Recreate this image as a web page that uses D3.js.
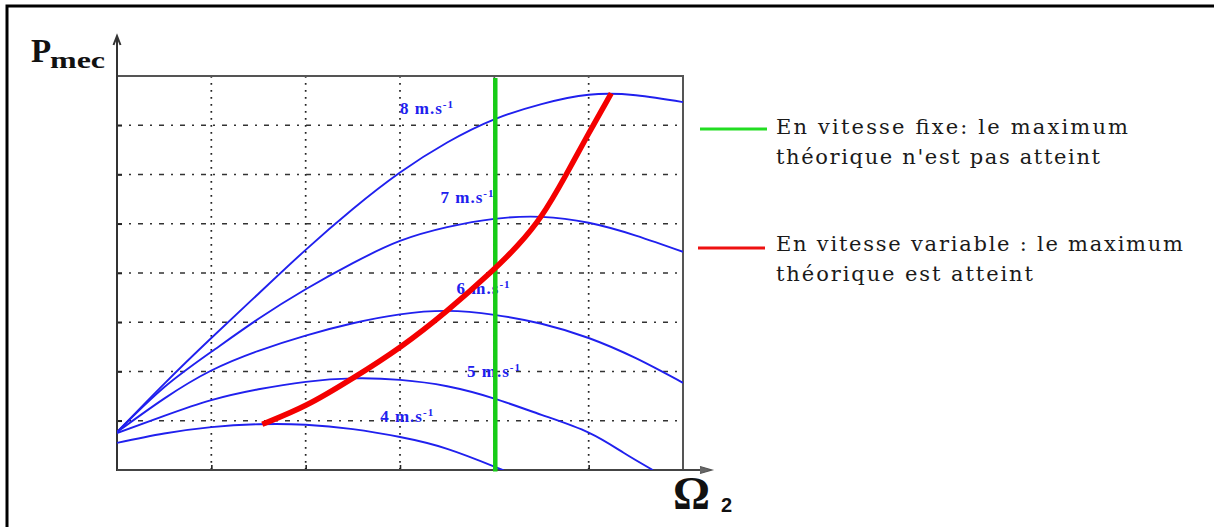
<!DOCTYPE html>
<html>
<head>
<meta charset="utf-8">
<script src="https://cdn.jsdelivr.net/npm/d3@7"></script>
<style>
  body { margin: 0; background: #fff; }
  svg { display: block; }
</style>
</head>
<body>
<svg id="chart" width="1214" height="527"></svg>
<script>
// Mechanical power of a wind turbine versus rotor speed Ω2, one curve per wind speed.
// Values are in grid units (6 columns × 8 rows), the chart has no numeric ticks.
const gridCols = [1, 2, 3, 4, 5];
const gridRows = [1, 2, 3, 4, 5, 6, 7];

const windSpeeds = ["4", "5", "6", "7", "8"];

const curve4 = [[0,0.55],[0.5,0.74],[1.0,0.87],[1.5,0.93],[2.0,0.92],[2.5,0.83],[3.0,0.67],[3.5,0.43],[4.0,0.07],[4.09,0]];
const curve5 = [[0,0.75],[0.5,1.10],[1.0,1.42],[1.5,1.64],[2.0,1.79],[2.5,1.86],[3.0,1.83],[3.5,1.70],[4.0,1.45],[4.5,1.12],[5.0,0.76],[5.37,0.35],[5.68,0]];
const curve6 = [[0,0.77],[0.5,1.45],[1.0,2.02],[1.5,2.42],[2.0,2.73],[2.5,2.98],[3.0,3.16],[3.5,3.23],[4.0,3.15],[4.5,2.97],[5.0,2.68],[5.5,2.27],[6.0,1.77]];
const curve7 = [[0,0.77],[0.5,1.68],[1.0,2.40],[1.5,3.07],[2.0,3.67],[2.5,4.20],[3.0,4.65],[3.5,4.93],[4.0,5.10],[4.5,5.14],[5.0,5.02],[5.5,4.76],[6.0,4.43]];
const curve8 = [[0,0.77],[0.5,1.75],[1.0,2.68],[1.5,3.58],[2.0,4.47],[2.5,5.30],[3.0,6.04],[3.5,6.65],[4.0,7.12],[4.5,7.43],[5.0,7.62],[5.5,7.61],[6.0,7.47]];
const powerCurves = [curve4, curve5, curve6, curve7, curve8];

// Fixed-speed operating point (vertical line) and the variable-speed optimum track
const fixedSpeed = 4.01;
const fixedSpan = [-0.03, 7.96];
const optimumTrack = [[1.54,0.93],[2.0,1.28],[2.5,1.86],[3.0,2.47],[3.5,3.22],[4.0,4.07],[4.25,4.55],[4.5,5.12],[4.75,5.95],[5.0,6.84],[5.24,7.65]];

const legendFixed = ["En vitesse fixe: le maximum", "théorique n'est pas  atteint"];
const legendVariable = ["En vitesse variable : le maximum", "théorique  est  atteint"];

// ---- layout ----
const svg = d3.select("#chart");
const plotLeft = 117, plotRight = 683, plotTop = 76, plotBottom = 470;

const x = d3.scaleLinear().domain([0, 6]).range([plotLeft, plotRight]);
const y = d3.scaleLinear().domain([0, 8]).range([plotBottom, plotTop]);

const blue = "#2020ee";

// outer frame (top and left edges)
svg.append("path")
  .attr("d", "M7,527 L7,6 L1214,6")
  .attr("fill", "none").attr("stroke", "#000").attr("stroke-width", 3);

// clip for curves
svg.append("defs").append("clipPath").attr("id", "plot")
  .append("rect").attr("x", plotLeft).attr("y", plotTop - 2)
  .attr("width", plotRight - plotLeft).attr("height", plotBottom - plotTop + 2);

// grid
const grid = svg.append("g");
grid.selectAll("line.v").data(gridCols).join("line").attr("class", "v")
  .attr("x1", d => x(d)).attr("x2", d => x(d))
  .attr("y1", plotTop).attr("y2", plotBottom)
  .attr("stroke", "#222").attr("stroke-width", 1.7)
  .attr("stroke-dasharray", "1.7,5.3");
grid.selectAll("line.h").data(gridRows).join("line").attr("class", "h")
  .attr("x1", plotLeft).attr("x2", plotRight)
  .attr("y1", d => y(d)).attr("y2", d => y(d))
  .attr("stroke", "#333").attr("stroke-width", 1.7)
  .attr("stroke-dasharray", "5,7,2,7");

// small ticks along the axes
svg.append("g").attr("transform", `translate(0,${plotBottom})`)
  .call(d3.axisBottom(x).tickValues(gridCols).tickSize(-5).tickFormat(""))
  .call(g => g.select(".domain").remove())
  .call(g => g.selectAll("line").attr("stroke", "#222").attr("stroke-width", 1.6));
svg.append("g").attr("transform", `translate(${plotLeft},0)`)
  .call(d3.axisLeft(y).tickValues(gridRows).tickSize(-5).tickFormat(""))
  .call(g => g.select(".domain").remove())
  .call(g => g.selectAll("line").attr("stroke", "#222").attr("stroke-width", 1.6));

// plot frame (top & right)
svg.append("path")
  .attr("d", `M${plotLeft},${plotTop} L${plotRight},${plotTop} L${plotRight},${plotBottom}`)
  .attr("fill", "none").attr("stroke", "#555").attr("stroke-width", 2);

// axes with arrows
svg.append("line").attr("x1", plotLeft).attr("x2", plotLeft).attr("y1", plotBottom + 1).attr("y2", 37)
  .attr("stroke", "#333").attr("stroke-width", 2);
svg.append("path").attr("d", `M${plotLeft - 3.5},45 L${plotLeft},36 L${plotLeft + 3.5},45`)
  .attr("fill", "none").attr("stroke", "#333").attr("stroke-width", 2);
svg.append("line").attr("x1", plotLeft).attr("x2", 711).attr("y1", plotBottom).attr("y2", plotBottom)
  .attr("stroke", "#444").attr("stroke-width", 2);
svg.append("path").attr("d", `M700,${plotBottom - 3.5} L712,${plotBottom} L700,${plotBottom + 3.5}`)
  .attr("fill", "#666").attr("stroke", "#555").attr("stroke-width", 1.2);

// wind-speed curves
const line = d3.line().x(d => x(d[0])).y(d => y(d[1])).curve(d3.curveNatural);
svg.append("g").attr("clip-path", "url(#plot)")
  .selectAll("path").data(powerCurves).join("path")
  .attr("d", line)
  .attr("fill", "none").attr("stroke", blue).attr("stroke-width", 1.9);

// curve labels
const labelAnchors = [[2.79, 0.98], [3.71, 1.88], [3.60, 3.57], [3.43, 5.42], [3.0, 7.23]];
const labels = svg.append("g")
  .attr("font-family", "'Liberation Serif', 'Times New Roman', serif")
  .attr("font-weight", "bold").attr("font-size", 17).attr("fill", blue)
  .attr("letter-spacing", "1px");
windSpeeds.forEach((s, i) => {
  const t = labels.append("text")
    .attr("x", x(labelAnchors[i][0])).attr("y", y(labelAnchors[i][1]));
  t.append("tspan").text(`${s} m.s`);
  t.append("tspan").attr("dy", -6).attr("font-size", 11).text("-1");
});

// fixed-speed line
svg.append("line")
  .attr("x1", x(fixedSpeed)).attr("x2", x(fixedSpeed))
  .attr("y1", y(fixedSpan[0])).attr("y2", y(fixedSpan[1]))
  .attr("stroke", "#17cc17").attr("stroke-width", 4.5);

// variable-speed optimum track (smoothed through the read points)
const track = d3.line().x(d => x(d[0])).y(d => y(d[1])).curve(d3.curveBasis);
svg.append("path")
  .attr("d", track(optimumTrack))
  .attr("fill", "none").attr("stroke", "#f40000").attr("stroke-width", 5.5)
  .attr("stroke-linecap", "butt");

// axis titles
const serif = "'Liberation Serif', 'Times New Roman', serif";
svg.append("text").attr("x", 31).attr("y", 62)
  .attr("font-family", serif).attr("font-weight", "bold").attr("font-size", 33)
  .attr("fill", "#111").text("P");
svg.append("text").attr("x", 50).attr("y", 68)
  .attr("font-family", serif).attr("font-weight", "bold").attr("font-size", 24)
  .attr("fill", "#111").attr("textLength", 55).attr("lengthAdjust", "spacingAndGlyphs")
  .text("mec");
svg.append("text").attr("x", 673).attr("y", 509)
  .attr("font-family", serif).attr("font-weight", "bold").attr("font-size", 46)
  .attr("fill", "#111").attr("textLength", 37).attr("lengthAdjust", "spacingAndGlyphs")
  .text("Ω");
svg.append("text").attr("x", 721).attr("y", 512)
  .attr("font-family", "'Liberation Sans', Arial, sans-serif").attr("font-weight", "bold")
  .attr("font-size", 20).attr("fill", "#111").text("2");

// legend
const legend = svg.append("g")
  .attr("font-family", "'DejaVu Serif', serif").attr("font-size", 21).attr("fill", "#1a1a1a")
  .style("white-space", "pre");
const legendRows = [
  { color: "#22dd22", lineY: 129, x1: 700, x2: 767, lines: legendFixed, base: 134, widths: [352, 324] },
  { color: "#ee1111", lineY: 248, x1: 698, x2: 765, lines: legendVariable, base: 251, widths: [407, 257] }
];
legendRows.forEach(r => {
  legend.append("line").attr("x1", r.x1).attr("x2", r.x2).attr("y1", r.lineY).attr("y2", r.lineY)
    .attr("stroke", r.color).attr("stroke-width", 3.2);
  r.lines.forEach((txt, j) => {
    legend.append("text").attr("x", 776).attr("y", r.base + j * 29.5)
      .attr("textLength", r.widths[j]).attr("lengthAdjust", "spacing")
      .text(txt);
  });
});
</script>
</body>
</html>
